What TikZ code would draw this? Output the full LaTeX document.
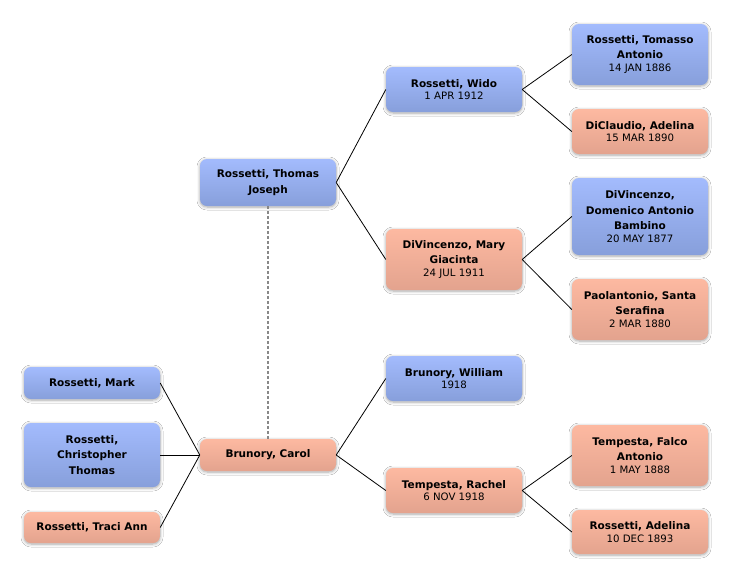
\documentclass[tikz,border=0pt]{standalone}
\usepackage{fontspec}
\setmainfont{DejaVu Sans}
\usetikzlibrary{shadows.blur}
\definecolor{mtop}{HTML}{A3BBFD}
\definecolor{mbot}{HTML}{879FDB}
\definecolor{ftop}{HTML}{FDB9A1}
\definecolor{fbot}{HTML}{E3A38E}
\definecolor{dashgray}{HTML}{888888}
\tikzset{
  person/.style={rectangle, rounded corners=7pt, minimum width=136pt, inner sep=0pt,
    align=center, font=\fontsize{10.5}{15.5}\selectfont\bfseries,
    blur shadow={shadow xshift=0pt, shadow yshift=-1pt, shadow blur radius=3pt, shadow blur steps=6, shadow opacity=35}},
  male/.style={person, top color=mtop, bottom color=mbot},
  female/.style={person, top color=ftop, bottom color=fbot},
  link/.style={draw=black, line width=0.8pt},
  spouse/.style={draw=dashgray, line width=1.3pt, dash pattern=on 3pt off 2pt}
}
\newcommand{\dt}[1]{\\[-3pt]{\fontsize{10.2}{12}\selectfont\mdseries #1}}
\begin{document}
\begin{tikzpicture}[x=1pt,y=-1pt]
\useasboundingbox[fill=white] (0,0) rectangle (732,579);
% column 1
\node[male, minimum height=32pt] (mark) at (92,383) {Rossetti, Mark};
\node[male, minimum height=64pt] (chris) at (92,455) {Rossetti,\\Christopher\\Thomas};
\node[female, minimum height=31pt] (traci) at (92,527.5) {Rossetti, Traci Ann};
% column 2
\node[female, minimum height=32pt] (carol) at (268,455) {Brunory, Carol};
\node[male, minimum height=47pt] (thomas) at (268,182.5) {Rossetti, Thomas\\Joseph};
% column 3
\node[male, minimum height=45pt] (wido) at (454,89.5) {Rossetti, Wido\dt{1 APR 1912}};
\node[female, minimum height=61pt] (mary) at (454,259.5) {DiVincenzo, Mary\\Giacinta\dt{24 JUL 1911}};
\node[male, minimum height=45pt] (william) at (454,378.5) {Brunory, William\dt{1918}};
\node[female, minimum height=45pt] (rachel) at (454,490.5) {Tempesta, Rachel\dt{6 NOV 1918}};
% column 4
\node[male, minimum height=61pt] (tomasso) at (640,54.5) {Rossetti, Tomasso\\Antonio\dt{14 JAN 1886}};
\node[female, minimum height=45pt] (diclaudio) at (640,131.5) {DiClaudio, Adelina\dt{15 MAR 1890}};
\node[male, minimum height=77pt] (domenico) at (640,216.5) {DiVincenzo,\\Domenico Antonio\\Bambino\dt{20 MAY 1877}};
\node[female, minimum height=61pt] (paolantonio) at (640,309.5) {Paolantonio, Santa\\Serafina\dt{2 MAR 1880}};
\node[female, minimum height=61pt] (falco) at (640,455.5) {Tempesta, Falco\\Antonio\dt{1 MAY 1888}};
\node[female, minimum height=44pt] (adelina) at (640,532) {Rossetti, Adelina\dt{10 DEC 1893}};
% connectors
\draw[spouse] (thomas.south) -- (carol.north);
\draw[link] (mark.east) -- (carol.west);
\draw[link] (chris.east) -- (carol.west);
\draw[link] (traci.east) -- (carol.west);
\draw[link] (thomas.east) -- (wido.west);
\draw[link] (thomas.east) -- (mary.west);
\draw[link] (carol.east) -- (william.west);
\draw[link] (carol.east) -- (rachel.west);
\draw[link] (wido.east) -- (tomasso.west);
\draw[link] (wido.east) -- (diclaudio.west);
\draw[link] (mary.east) -- (domenico.west);
\draw[link] (mary.east) -- (paolantonio.west);
\draw[link] (rachel.east) -- (falco.west);
\draw[link] (rachel.east) -- (adelina.west);
\end{tikzpicture}
\end{document}
